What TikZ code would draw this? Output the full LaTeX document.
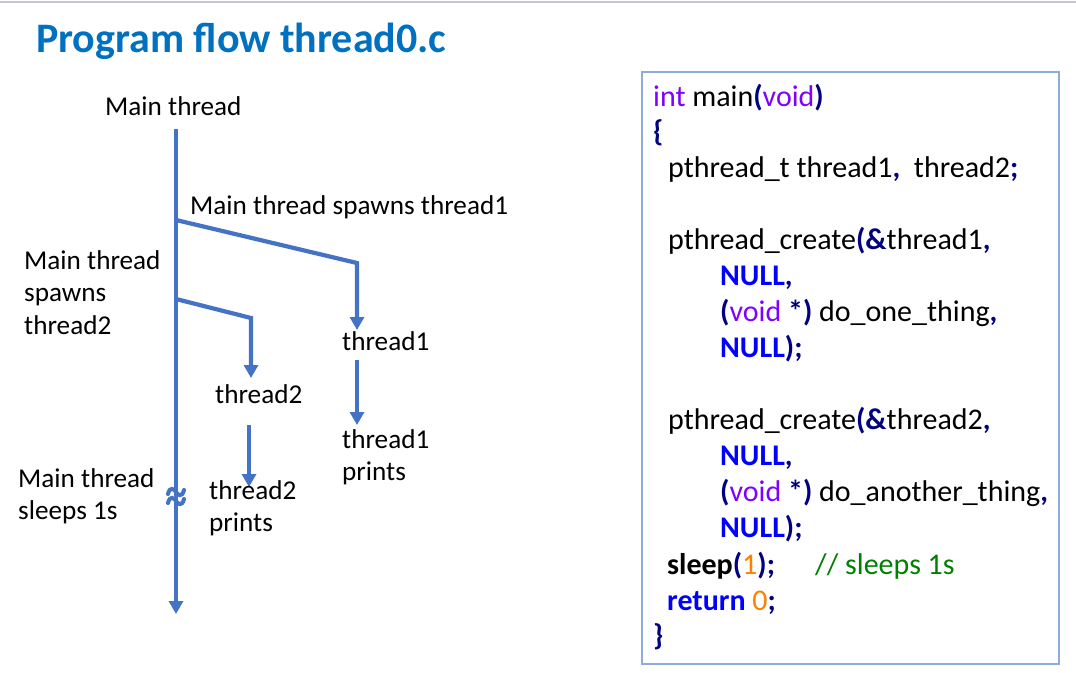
\documentclass[tikz,border=0pt]{standalone}
\usepackage{fontspec}
\setmainfont{Carlito}
\usetikzlibrary{arrows.meta}
\definecolor{flowblue}{HTML}{4472C4}
\definecolor{titleblue}{HTML}{0070C0}
\definecolor{boxline}{HTML}{8FAADC}
\definecolor{rulegray}{HTML}{C4C8D0}
\definecolor{kwpurple}{HTML}{8000FF}
\definecolor{opnavy}{HTML}{000080}
\definecolor{nullblue}{HTML}{0000FF}
\definecolor{numorange}{HTML}{FF8000}
\definecolor{cmtgreen}{HTML}{008000}
% syntax colouring helpers for the code listing
\newcommand\codeop[1]{\textcolor{opnavy}{\textbf{#1}}}
\newcommand\codetype[1]{\textcolor{kwpurple}{#1}}
\newcommand\codenull[1]{\textcolor{nullblue}{\textbf{#1}}}
\newcommand\codenum[1]{\textcolor{numorange}{#1}}
\newcommand\codecmt[1]{\textcolor{cmtgreen}{#1}}
\begin{document}
\begin{tikzpicture}[x=1pt,y=-1pt,
  lbl/.style={anchor=base west,inner sep=0pt,font=\fontsize{27.2}{32.5}\selectfont,align=left},
  code/.style={anchor=base west,inner sep=0pt,font=\fontsize{30}{36}\selectfont},
  flow/.style={draw=flowblue,line width=4.2pt},
  flowarrow/.style={flow,-{Triangle[width=14pt,length=13pt]}}]
\useasboundingbox (0,0) rectangle (1076,672);
% header rule and title
\draw[rulegray,line width=2pt] (0,2) -- (1076,2);
\node[anchor=base west,inner sep=0pt,text=titleblue,font=\fontsize{42}{48}\selectfont\bfseries] (title) at (36,52) {Program flow thread0.c};

% ---- flow diagram ----
\node[lbl] (mainlbl) at (105,115) {Main thread};
\coordinate (mtop) at (176,129);
\coordinate (mbot) at (176,614);
\coordinate (b1) at (176,220);
\coordinate (b1c) at (357,263);
\coordinate (b1e) at (357,330);
\coordinate (b2) at (176,299);
\coordinate (b2c) at (251,318);
\coordinate (b2e) at (251,378);
\draw[flowarrow] (mtop) -- (mbot);
\draw[flowarrow,line join=miter] (b1) -- (b1c) -- (b1e);
\draw[flowarrow,line join=miter] (b2) -- (b2c) -- (b2e);

\node[lbl] (spawn1) at (190,214) {Main thread spawns thread1};
\node[lbl,anchor=north west] (spawn2) at (24,250) {Main thread\\spawns\\thread2};
\node[lbl] (t1) at (342,350) {thread1};
\coordinate (t1a) at (357,360);
\coordinate (t1b) at (357,425);
\draw[flowarrow] (t1a) -- (t1b);
\node[lbl,anchor=north west] (t1p) at (342,429) {thread1\\prints};
\node[lbl] (t2) at (215,403) {thread2};
\coordinate (t2a) at (249,425);
\coordinate (t2b) at (249,487);
\draw[flowarrow] (t2a) -- (t2b);
\node[lbl,anchor=north west] (t2p) at (209,480) {thread2\\prints};
\node[lbl,anchor=north west] (sleeplbl) at (18,468) {Main thread\\sleeps 1s};

% break mark on the main line
\foreach \yy in {492,501}{
  \draw[flowblue,line width=4pt,line cap=round]
    (168,\yy+2) .. controls (170,\yy-6) and (174,\yy-3) .. (176,\yy)
                .. controls (178,\yy+3) and (182,\yy+6) .. (184,\yy-2);
}

% ---- code listing ----
\draw[boxline,line width=1.8pt] (642,72) rectangle (1059,664);
\node[code] (c1) at (653,106) {\codetype{int} main\codeop{(}\codetype{void}\codeop{)}};
\node[code] (c2) at (653,141) {\codeop{\{}};
\node[code] (c3) at (668,177) {pthread\_t thread1\codeop{,}\ \ thread2\codeop{;}};
\node[code] (c4) at (668,249) {pthread\_create\codeop{(\&}thread1\codeop{,}};
\node[code] (c5) at (720,285) {\codenull{NULL}\codeop{,}};
\node[code] (c6) at (720,321) {\codeop{(}\codetype{void} \codeop{*)} do\_one\_thing\codeop{,}};
\node[code] (c7) at (720,357) {\codenull{NULL}\codeop{);}};
\node[code] (c8) at (668,429) {pthread\_create\codeop{(\&}thread2\codeop{,}};
\node[code] (c9) at (720,465) {\codenull{NULL}\codeop{,}};
\node[code] (c10) at (720,501) {\codeop{(}\codetype{void} \codeop{*)} do\_another\_thing\codeop{,}};
\node[code] (c11) at (720,537) {\codenull{NULL}\codeop{);}};
\node[code] (c12) at (667,574) {\textbf{sleep}\codeop{(}\codenum{1}\codeop{);}};
\node[code] (c12c) at (815,574) {\codecmt{// sleeps 1s}};
\node[code] (c13) at (667,610) {\codenull{return} \codenum{0}\codeop{;}};
\node[code] (c14) at (653,645) {\codeop{\}}};
\end{tikzpicture}
\end{document}
